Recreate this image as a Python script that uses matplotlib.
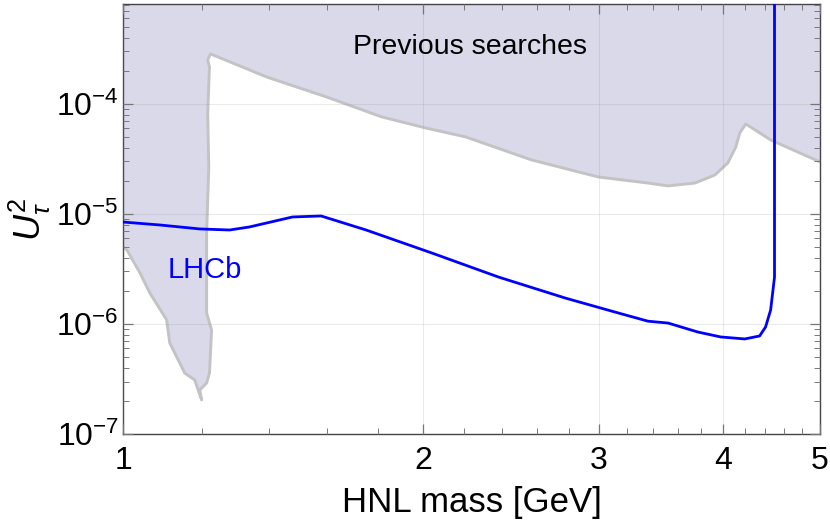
import matplotlib
matplotlib.use("Agg")
import matplotlib.pyplot as plt
from matplotlib.ticker import FixedLocator, LogLocator, NullFormatter, FuncFormatter

plt.rcParams.update({
    "font.family": ["Liberation Sans", "DejaVu Sans"],
    "mathtext.fontset": "custom",
    "mathtext.rm": "Liberation Sans",
    "mathtext.it": "Liberation Sans:italic",
    "mathtext.bf": "Liberation Sans:bold",
})

# previous searches: boundary of the excluded region (GeV, U^2)
prev_mass = [1.000, 1.009, 1.040, 1.064, 1.106, 1.114, 1.140, 1.153, 1.180, 1.199,
             1.194, 1.213, 1.221, 1.227, 1.213, 1.213, 1.219, 1.216, 1.221, 1.216, 1.224,
             1.393, 1.599, 1.818, 2.012, 2.207, 2.568, 2.996, 3.361, 3.520, 3.745,
             3.922, 4.041, 4.116, 4.154, 4.212, 4.461, 5.000]
prev_u2 = [5.01e-6, 4.71e-6, 2.91e-6, 1.91e-6, 1.09e-6, 6.71e-7, 4.42e-7, 3.58e-7, 3.10e-7, 2.04e-7,
           2.51e-7, 2.91e-7, 3.58e-7, 8.81e-7, 1.26e-6, 6.71e-6, 2.67e-5, 8.28e-5, 2.17e-4, 2.51e-4, 2.85e-4,
           1.76e-4, 1.16e-4, 7.62e-5, 6.05e-5, 5.01e-5, 3.10e-5, 2.17e-5, 1.91e-5, 1.80e-5, 1.91e-5,
           2.26e-5, 2.91e-5, 4.06e-5, 5.45e-5, 6.58e-5, 4.71e-5, 2.97e-5]

# LHCb sensitivity curve
lhcb_mass = [1.000, 1.089, 1.194, 1.279, 1.339, 1.479, 1.580, 1.753, 2.040, 2.380,
             2.777, 3.137, 3.361, 3.520, 3.771, 3.976, 4.202, 4.349, 4.409, 4.461,
             4.501, 4.501, 4.501]
lhcb_u2 = [8.45e-6, 7.94e-6, 7.31e-6, 7.15e-6, 7.62e-6, 9.39e-6, 9.59e-6, 7.15e-6, 4.42e-6, 2.67e-6,
           1.72e-6, 1.26e-6, 1.06e-6, 1.02e-6, 8.45e-7, 7.62e-7, 7.31e-7, 7.78e-7, 9.39e-7, 1.34e-6,
           2.67e-6, 4.06e-6, 1.0e-3]

x_major = [1, 2, 3, 4, 5]
x_minor = [1.2, 1.4, 1.6, 1.8, 2.2, 2.4, 2.6, 2.8, 3.2, 3.4, 3.6, 3.8, 4.2, 4.4, 4.6, 4.8]

fig = plt.figure(figsize=(8.3, 5.29), dpi=100)
ax = fig.add_axes([0.1482, 0.1796, 0.8398, 0.8128])

top = 1e-2
ax.fill(prev_mass + [5.0, 1.0], prev_u2 + [top, top],
        color="#d9d9ea", lw=0, zorder=1)
ax.plot(prev_mass, prev_u2, color="#c3c3c3", lw=2.1, zorder=2,
        solid_joinstyle="round", solid_capstyle="butt")
ax.plot(lhcb_mass, lhcb_u2, color="#0000ff", lw=2.0, zorder=4)

ax.set_xscale("log")
ax.set_yscale("log")
ax.set_xlim(1, 5)
ax.set_ylim(1e-7, 8.1e-4)

ax.xaxis.set_major_locator(FixedLocator(x_major))
ax.xaxis.set_major_formatter(FuncFormatter(lambda v, p: f"{v:g}"))
ax.xaxis.set_minor_locator(FixedLocator(x_minor))
ax.xaxis.set_minor_formatter(NullFormatter())
ax.yaxis.set_major_locator(LogLocator(base=10, numticks=10))
ax.yaxis.set_minor_locator(LogLocator(base=10, subs=range(2, 10), numticks=20))
ax.yaxis.set_minor_formatter(NullFormatter())

ax.tick_params(which="both", direction="in", top=True, right=True,
               color="#777777", labelsize=23, labelcolor="black")
ax.tick_params(which="major", length=7, width=0.9)
ax.tick_params(which="minor", length=4, width=0.7)
ax.tick_params(axis="x", which="major", pad=9)
ax.tick_params(axis="y", which="major", pad=3)
for sp in ax.spines.values():
    sp.set_color("#444444")
    sp.set_linewidth(1.0)

ax.set_axisbelow(False)
ax.grid(which="major", color="#808080", alpha=0.16, lw=0.8)

ax.set_xlabel("HNL mass [GeV]", fontsize=25, labelpad=7)
ax.set_ylabel(r"$U_\tau^2$", fontsize=26, labelpad=2)

ax.text(2.227, 3.3e-4, "Previous searches", fontsize=20.5, ha="center", va="center",
        color="black", zorder=5)
ax.text(1.208, 3.1e-6, "LHCb", fontsize=21, ha="center", va="center",
        color="#0000ff", zorder=5)

fig.savefig("out.png", dpi=100)
